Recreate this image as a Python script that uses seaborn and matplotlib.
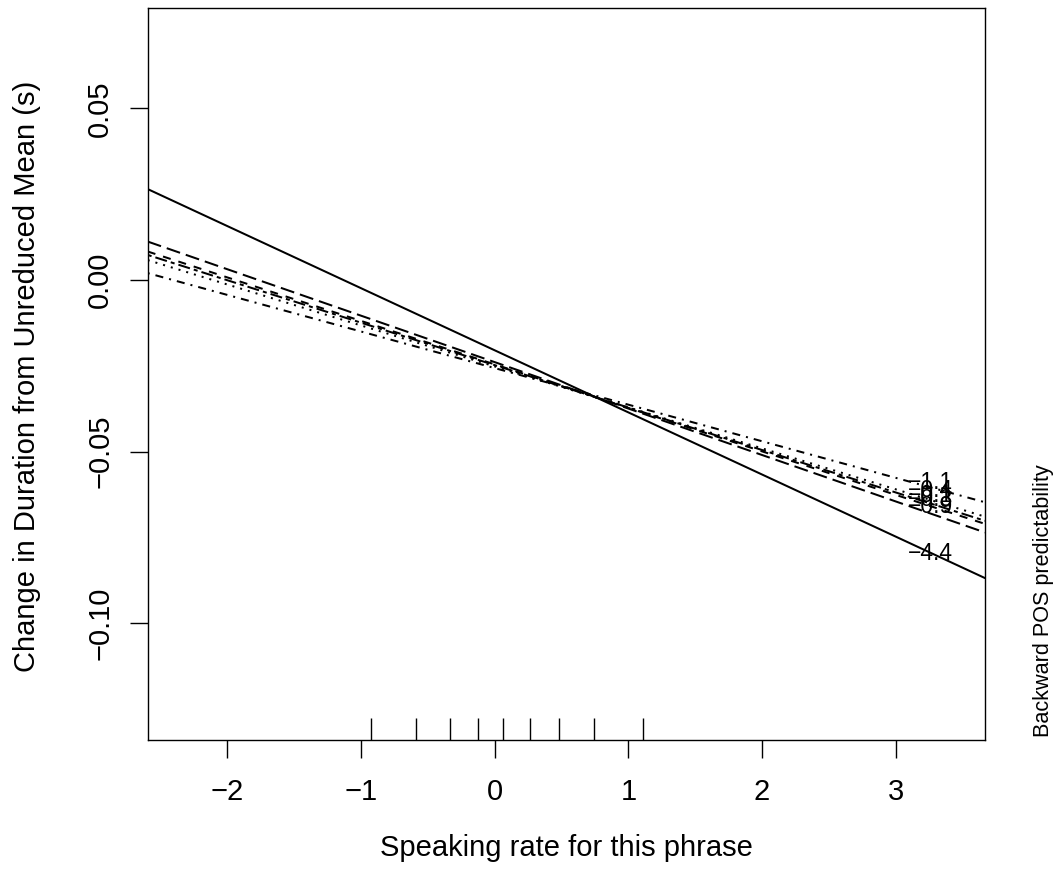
import numpy as np
import pandas as pd
import matplotlib
matplotlib.use("Agg")
import matplotlib.pyplot as plt
import seaborn as sns

# ---- data ----
levels = ["-4.4", "-1.1", "-0.4", "-0.1", "-0.3", "-0.9"]
rate_ends = [-2.595, 3.667]                      # speaking rate (x) at the ends of each curve
y_left = [0.0265, 0.0020, 0.0083, 0.0073, 0.0058, 0.0112]
y_right = [-0.0869, -0.0648, -0.0711, -0.0702, -0.0690, -0.0736]
label_x = 3.26
label_y = [-0.0796, -0.0589, -0.0615, -0.0627, -0.0641, -0.0659]
rug_rate = [-0.928, -0.585, -0.337, -0.127, 0.064, 0.262, 0.480, 0.740, 1.106]
xticks = [-2, -1, 0, 1, 2, 3]
yticks = [-0.10, -0.05, 0.00, 0.05]

# ---- styles ----
line_dashes = {
    "-4.4": "",
    "-1.1": (1, 3, 4, 3),   # dotdash
    "-0.4": (4, 4),         # dashed
    "-0.1": (2, 2, 6, 2),   # twodash
    "-0.3": (1, 3),         # dotted
    "-0.9": (7, 3),         # longdash
}

sns.set_style("white")
plt.rcParams["font.family"] = ["Liberation Sans", "DejaVu Sans"]
plt.rcParams["axes.unicode_minus"] = True
plt.rcParams["text.color"] = "black"
plt.rcParams["axes.labelcolor"] = "black"

df = pd.DataFrame({
    "rate": np.tile(rate_ends, len(levels)),
    "change": np.ravel(np.column_stack([y_left, y_right])),
    "level": np.repeat(levels, 2),
})

W, H = 1060, 886
fig = plt.figure(figsize=(W / 100, H / 100), dpi=100)
ax = fig.add_axes([147.7 / W, 1 - 740 / H, (985 - 147.7) / W, (740 - 8.3) / H])

sns.lineplot(data=df, x="rate", y="change", style="level", dashes=line_dashes,
             color="black", linewidth=1.45, estimator=None, sort=False,
             legend=False, ax=ax)
sns.rugplot(x=rug_rate, height=0.030, color="black", linewidth=1.0, ax=ax)

for lab, ly in zip(levels, label_y):
    ax.text(label_x, ly, lab.replace("-", "\u2212"), fontsize=16.5,
            ha="center", va="center", color="black")

ax.set_xlim(-2.595, 3.667)
ax.set_ylim(-0.1341, 0.0792)
ax.set_xticks(xticks)
ax.set_xticklabels([f"{t}".replace("-", "\u2212") for t in xticks])
ax.set_yticks(yticks)
ax.set_yticklabels([f"{t:.2f}".replace("-", "\u2212") for t in yticks])
ax.tick_params(axis="both", direction="out", length=13, width=1.0,
               labelsize=21, colors="black", bottom=True, left=True)
ax.tick_params(axis="x", pad=14)
ax.tick_params(axis="y", pad=11, labelrotation=90)
for t in ax.get_yticklabels():
    t.set_va("center")
for s in ax.spines.values():
    s.set_visible(True)
    s.set_color("black")
    s.set_linewidth(1.0)
ax.set_xlabel("")
ax.set_ylabel("")

fig.text(566 / W, 1 - 848 / H, "Speaking rate for this phrase", fontsize=21,
         ha="center", va="center", color="black")
fig.text(27 / W, 1 - 376 / H, "Change in Duration from Unreduced Mean (s)",
         fontsize=21, rotation=90, ha="center", va="center", color="black")
fig.text(1043 / W, 1 - 601 / H, "Backward POS predictability", fontsize=15.6,
         rotation=90, ha="center", va="center", color="black")

fig.savefig("out.png", dpi=100, facecolor="white")
